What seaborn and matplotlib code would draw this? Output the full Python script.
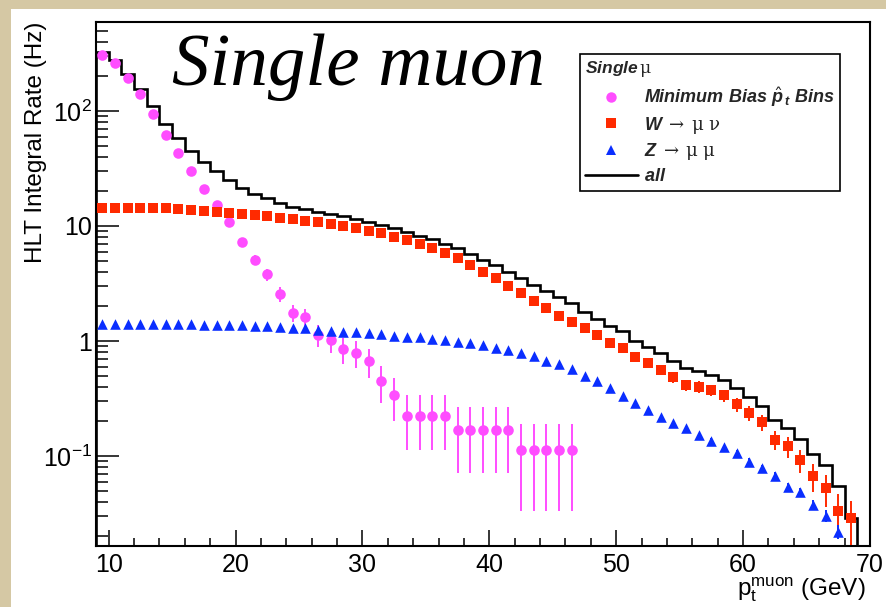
import numpy as np
import pandas as pd
import seaborn as sns
import matplotlib
matplotlib.use("Agg")
import matplotlib.pyplot as plt
from matplotlib.lines import Line2D
from matplotlib.patches import Rectangle
from matplotlib.ticker import FixedLocator, FixedFormatter, MultipleLocator, LogLocator, NullFormatter

# ---------------- data ----------------
# 1 GeV bins of muon pt
bin_edges = list(range(9, 70))

# Minimum-bias (pt-hat binned) sample, bins 9-47 GeV
mb_rate = [307, 260, 192, 140, 95, 62, 43, 30, 21, 15.2,
           10.8, 7.3, 5.1, 3.8, 2.56, 1.76, 1.61, 1.13, 1.02, 0.85,
           0.79, 0.67, 0.45, 0.34, 0.224, 0.224, 0.224, 0.224, 0.168, 0.168,
           0.168, 0.168, 0.168, 0.112, 0.112, 0.112, 0.112, 0.112]
mb_err = [4.15, 3.8, 3.3, 2.8, 2.3, 1.86, 1.55, 1.3, 1.08, 0.92,
          0.78, 0.64, 0.53, 0.46, 0.38, 0.31, 0.30, 0.25, 0.24, 0.22,
          0.21, 0.19, 0.16, 0.14, 0.112, 0.112, 0.112, 0.112, 0.097, 0.097,
          0.097, 0.097, 0.097, 0.079, 0.079, 0.079, 0.079, 0.079]

# W -> mu nu, bins 9-69 GeV
w_rate = [14.3, 14.3, 14.3, 14.3, 14.3, 14.25, 14.06, 13.78, 13.59, 13.32,
          13.05, 12.71, 12.39, 12.22, 11.81, 11.43, 11.11, 10.83, 10.40, 10.06,
          9.55, 9.10, 8.64, 8.07, 7.55, 6.93, 6.48, 5.79, 5.24, 4.58,
          4.01, 3.51, 3.01, 2.63, 2.24, 1.92, 1.66, 1.47, 1.30, 1.12,
          0.966, 0.877, 0.722, 0.640, 0.560, 0.483, 0.414, 0.401, 0.375, 0.337,
          0.281, 0.238, 0.196, 0.139, 0.121, 0.0923, 0.0670, 0.0524, 0.0334, 0.0287]
w_err = [0.267, 0.267, 0.267, 0.267, 0.267, 0.267, 0.265, 0.262, 0.261, 0.258,
         0.255, 0.252, 0.249, 0.247, 0.243, 0.239, 0.236, 0.233, 0.228, 0.224,
         0.219, 0.213, 0.208, 0.201, 0.194, 0.186, 0.180, 0.170, 0.162, 0.151,
         0.142, 0.132, 0.123, 0.115, 0.106, 0.098, 0.091, 0.086, 0.081, 0.075,
         0.070, 0.066, 0.060, 0.057, 0.053, 0.049, 0.046, 0.045, 0.043, 0.041,
         0.0375, 0.0345, 0.031, 0.026, 0.0246, 0.0215, 0.0183, 0.0162, 0.0129, 0.012]

# Z -> mu mu, bins 9-68 GeV
z_rate = [1.40, 1.40, 1.40, 1.40, 1.40, 1.40, 1.40, 1.40, 1.39, 1.39,
          1.38, 1.37, 1.36, 1.35, 1.331, 1.30, 1.29, 1.246, 1.229, 1.205,
          1.190, 1.167, 1.144, 1.112, 1.089, 1.077, 1.047, 1.020, 0.986, 0.955,
          0.923, 0.875, 0.835, 0.792, 0.745, 0.674, 0.625, 0.569, 0.499, 0.446,
          0.388, 0.334, 0.287, 0.251, 0.220, 0.192, 0.174, 0.152, 0.136, 0.119,
          0.107, 0.0892, 0.0781, 0.0670, 0.0534, 0.0483, 0.0375, 0.0303, 0.0220]
z_err = [0.0237, 0.0237, 0.0237, 0.0237, 0.0237, 0.0237, 0.0237, 0.0237, 0.0236, 0.0236,
         0.0235, 0.0234, 0.0233, 0.0232, 0.0231, 0.0228, 0.0227, 0.0223, 0.0222, 0.0220,
         0.0218, 0.0216, 0.0214, 0.0211, 0.0209, 0.0208, 0.0205, 0.0202, 0.0199, 0.0195,
         0.0192, 0.0187, 0.0183, 0.0178, 0.0173, 0.0164, 0.0158, 0.0151, 0.0141, 0.0134,
         0.0125, 0.0116, 0.0107, 0.0100, 0.0094, 0.0088, 0.0083, 0.0078, 0.0074, 0.0069,
         0.0065, 0.0060, 0.0056, 0.0052, 0.0046, 0.0044, 0.0039, 0.0035, 0.0030]

x_ticks = [10, 20, 30, 40, 50, 60, 70]
x_tick_labels = ["10", "20", "30", "40", "50", "60", "70"]
y_ticks = [0.1, 1, 10, 100]
y_tick_labels = [r"$\mathsf{10^{-1}}$", "1", "10", r"$\mathsf{10^{2}}$"]

series_labels = [r"$\mathit{Minimum\ Bias}\ \hat{\mathit{p}}_{\,\mathit{t}}\ \mathit{Bins}$",
                 r"$\mathit{W}\;\rightarrow\;\mathrm{\mu\ \nu}$",
                 r"$\mathit{Z}\;\rightarrow\;\mathrm{\mu\ \mu}$",
                 r"$\mathit{all}$"]
legend_title = r"$\mathit{Single}\,\mathrm{\mu}$"

MAGENTA = "#FF4DFF"
RED = "#FF2A00"
BLUE = "#0A2EFF"

# ---------------- tables ----------------
edges = np.array(bin_edges, dtype=float)
centers = edges[:-1] + 0.5
mb = pd.DataFrame({"pt": centers[:len(mb_rate)], "rate": mb_rate, "err": mb_err})
wd = pd.DataFrame({"pt": centers[:len(w_rate)], "rate": w_rate, "err": w_err})
zd = pd.DataFrame({"pt": centers[:len(z_rate)], "rate": z_rate, "err": z_err})

total = np.zeros(len(centers))
for d in (mb, wd, zd):
    total[:len(d)] += d["rate"].to_numpy()

# ---------------- style ----------------
sns.set_theme(style="ticks")
plt.rcParams["font.family"] = ["Liberation Sans", "DejaVu Sans"]
plt.rcParams["mathtext.fontset"] = "custom"
plt.rcParams["mathtext.rm"] = "DejaVu Serif"
plt.rcParams["mathtext.it"] = "Liberation Sans:bold:italic"
plt.rcParams["mathtext.bf"] = "Liberation Sans:bold"
plt.rcParams["mathtext.sf"] = "Liberation Sans"

fig = plt.figure(figsize=(8.86, 6.07), dpi=100)
fig.patch.set_facecolor("#D5C8A4")
# white canvas behind the pad
fig.patches.append(Rectangle((11 / 886, 0), 1, (607 - 9) / 607, transform=fig.transFigure,
                             facecolor="white", edgecolor="none", zorder=-5))
ax = fig.add_axes([96 / 886, 1 - 546 / 607, 774 / 886, 524 / 607])
ax.set_facecolor("white")
ax.set_yscale("log")

# summed histogram
ax.stairs(total, edges, baseline=1e-4, color="black", linewidth=1.9, zorder=2)

# error bars
for d, c in ((mb, MAGENTA), (wd, RED), (zd, BLUE)):
    ax.errorbar(d["pt"], d["rate"], yerr=d["err"], fmt="none", ecolor=c,
                elinewidth=1.4, capsize=0, zorder=3)

# markers
sns.scatterplot(data=mb, x="pt", y="rate", marker="o", s=58, color=MAGENTA,
                linewidth=0, ax=ax, zorder=4)
sns.scatterplot(data=wd, x="pt", y="rate", marker="s", s=46, color=RED,
                linewidth=0, ax=ax, zorder=4)
sns.scatterplot(data=zd, x="pt", y="rate", marker="^", s=58, color=BLUE,
                linewidth=0, ax=ax, zorder=4)

ax.set_xlim(9, 70)
ax.set_ylim(0.0165, 594)

ax.xaxis.set_major_locator(FixedLocator(x_ticks))
ax.xaxis.set_major_formatter(FixedFormatter(x_tick_labels))
ax.xaxis.set_minor_locator(MultipleLocator(2))
ax.yaxis.set_major_locator(FixedLocator(y_ticks))
ax.yaxis.set_major_formatter(FixedFormatter(y_tick_labels))
ax.yaxis.set_minor_locator(LogLocator(base=10, subs=np.arange(2, 10)))
ax.yaxis.set_minor_formatter(NullFormatter())

ax.tick_params(axis="both", which="both", direction="in", top=False, right=False,
               bottom=True, left=True, color="black", labelcolor="black")
ax.tick_params(axis="x", which="major", length=11.3, width=1.1, labelsize=18, pad=5)
ax.tick_params(axis="x", which="minor", length=5.6, width=1.1)
ax.tick_params(axis="y", which="major", length=16.7, width=1.1, labelsize=18, pad=3)
ax.tick_params(axis="y", which="minor", length=8.4, width=1.1)
for sp in ax.spines.values():
    sp.set_visible(True)
    sp.set_color("black")
    sp.set_linewidth(1.5)

ax.set_ylabel("HLT Integral Rate (Hz)", fontsize=17.5, color="black", loc="top")
ax.yaxis.set_label_coords(-0.063, 1.0)
ax.set_xlabel(r"$\mathsf{p}_{\mathsf{t}}^{\mathsf{muon}}$ (GeV)", fontsize=17.5,
              color="black", loc="right")
ax.xaxis.set_label_coords(0.995, -0.055)

ax.text(0.098, 0.880, "Single muon", transform=ax.transAxes, fontsize=54,
        fontstyle="italic", family="Liberation Serif", ha="left", va="baseline",
        color="black")

handles = [
    Line2D([], [], marker="o", color=MAGENTA, linestyle="none", markersize=7.5, markeredgewidth=0),
    Line2D([], [], marker="s", color=RED, linestyle="none", markersize=6.6, markeredgewidth=0),
    Line2D([], [], marker="^", color=BLUE, linestyle="none", markersize=7.2, markeredgewidth=0),
    Line2D([], [], color="black", linewidth=1.9),
]
leg = ax.legend(handles, series_labels, title=legend_title, loc="upper left",
                bbox_to_anchor=(0.625, 0.939), alignment="left", frameon=True,
                fancybox=False, edgecolor="black", framealpha=1, fontsize=13,
                title_fontsize=12.5, handlelength=2.9, handletextpad=0.35,
                labelspacing=0.32, borderpad=0.3, borderaxespad=0)
leg.get_frame().set_linewidth(1.2)
leg.set_zorder(6)

fig.savefig("out.png", dpi=100, facecolor=fig.get_facecolor())
